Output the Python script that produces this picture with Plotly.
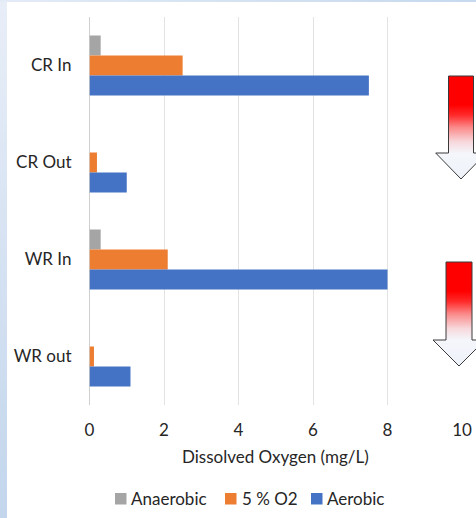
import plotly.graph_objects as go

# Dissolved oxygen per sampling point and atmosphere
sites = ["CR In", "CR Out", "WR In", "WR out"]
anaerobic = [0.3, 0, 0.3, 0]
five_pct_o2 = [2.5, 0.2, 2.1, 0.12]
aerobic = [7.5, 1.0, 8.0, 1.1]

series_names = ["Anaerobic", "5 % O2", "Aerobic"]
series_values = [anaerobic, five_pct_o2, aerobic]
series_colors = ["#a5a5a5", "#ed7d31", "#4472c4"]

W, H = 476, 518
FONT = "Lato"
FS = 17
TEXT = "#262626"

fig = go.Figure()

for name, vals, col in zip(series_names, series_values, series_colors):
    fig.add_trace(go.Bar(
        y=sites, x=vals, name=name, orientation="h",
        marker=dict(color=col, line=dict(width=0)),
        hoverinfo="x+y", showlegend=False,
    ))

# ---- decoration layer: a full-figure pixel-space subplot ----
def deco(xs, ys, colorscale, gtype, line=None):
    fig.add_trace(go.Scatter(
        x=xs, y=ys, xaxis="x2", yaxis="y2", mode="lines",
        fill="toself",
        fillgradient=dict(type=gtype, colorscale=colorscale),
        line=line if line else dict(width=0, color="rgba(0,0,0,0)"),
        showlegend=False, hoverinfo="skip",
    ))

# slide background edges (left and top strips)
deco([0, 7, 7, 0, 0], [0, 0, H, H, 0],
     [[0, "#c3d6ec"], [1, "#e8eef8"]], "vertical")
deco([0, W, W, 0, 0], [H - 2, H - 2, H, H, H - 2],
     [[0, "#e3ebf6"], [1, "#c6d9ee"]], "horizontal")

# downward red-to-white arrows
arrow_scale = [[0, "#eef2f9"], [0.25, "#f4f6fb"], [0.36, "#f7d8dc"],
               [0.5, "#fb8a8a"], [0.62, "#ff2a2a"], [0.72, "#ff0000"],
               [1, "#ff0000"]]

def arrow(cx, top, head_top, tip, shaft_half, head_half):
    px = [cx - shaft_half, cx + shaft_half, cx + shaft_half, cx + head_half,
          cx, cx - head_half, cx - shaft_half, cx - shaft_half]
    py = [top, top, head_top, head_top, tip, head_top, head_top, top]
    deco(px, [H - v for v in py], arrow_scale, "vertical",
         line=dict(color="#3a3a3a", width=1))

arrow(461, 76, 153, 179, 12.5, 25.3)
arrow(459, 262, 340, 366, 13, 26)

x0_px, x1_px = 89.5, 462
top_px, bot_px = 17, 405

# legend: colour swatches with their labels
shapes = []
annotations = []
legend_items = [(115, 130), (225, 241), (311, 326)]
for (sq_x, tx_x), name, col in zip(legend_items, series_names, series_colors):
    shapes.append(dict(type="rect", xref="paper", yref="paper",
                       x0=sq_x / W, x1=(sq_x + 11.5) / W,
                       y0=(H - 504.5) / H, y1=(H - 493) / H,
                       fillcolor=col, line=dict(width=0)))
    annotations.append(dict(text=name, xref="paper", yref="paper",
                            x=tx_x / W, y=(H - 498.5) / H,
                            xanchor="left", yanchor="middle",
                            showarrow=False, borderpad=0,
                            font=dict(size=FS, color=TEXT, family=FONT)))

# x-axis title
annotations.append(dict(text="Dissolved Oxygen (mg/L)", xref="paper", yref="paper",
                        x=(x0_px + x1_px) / 2 / W, y=(H - 456) / H,
                        xanchor="center", yanchor="middle", showarrow=False,
                        font=dict(size=FS, color=TEXT, family=FONT)))

fig.update_layout(
    width=W, height=H,
    margin=dict(l=0, r=0, t=0, b=0),
    paper_bgcolor="white", plot_bgcolor="rgba(0,0,0,0)",
    font=dict(family=FONT, size=FS, color=TEXT),
    barmode="group", bargap=0.38, bargroupgap=0,
    showlegend=False,
    shapes=shapes, annotations=annotations,
    xaxis=dict(
        domain=[x0_px / W, x1_px / W], range=[0, 10], dtick=2,
        showgrid=True, gridcolor="#e3e3e3", gridwidth=1,
        zeroline=True, zerolinecolor="#cfcfcf", zerolinewidth=1,
        showline=False, ticks="", ticklabelstandoff=13,
        tickfont=dict(size=FS, color=TEXT), fixedrange=True,
        automargin=False, anchor="y",
    ),
    yaxis=dict(
        domain=[(H - bot_px) / H, (H - top_px) / H],
        autorange="reversed", showgrid=False, zeroline=False,
        showline=False, ticks="", ticklabelstandoff=17,
        tickfont=dict(size=FS, color=TEXT), fixedrange=True,
        automargin=False, anchor="x",
    ),
    xaxis2=dict(domain=[0, 1], range=[0, W], visible=False,
                anchor="y2", fixedrange=True, automargin=False),
    yaxis2=dict(domain=[0, 1], range=[0, H], visible=False,
                anchor="x2", fixedrange=True, automargin=False),
)

fig.write_html("out.html")
